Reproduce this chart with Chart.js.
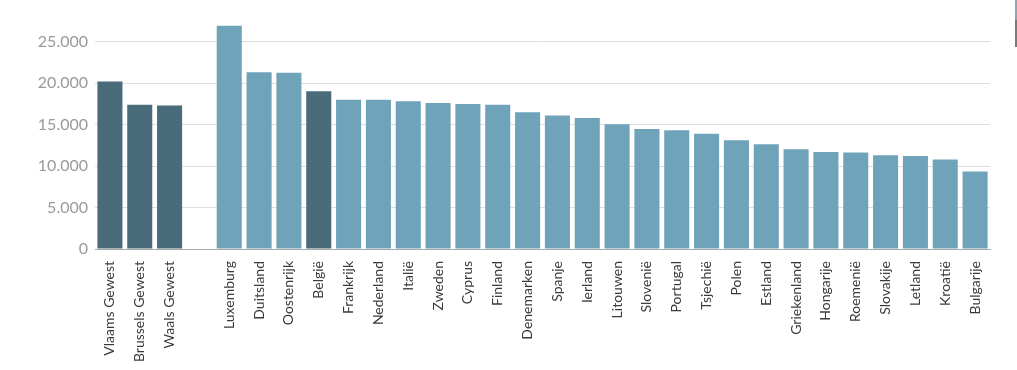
<!DOCTYPE html>
<html>
<head>
<meta charset="utf-8">
<script src="https://cdn.jsdelivr.net/npm/chart.js@4/dist/chart.umd.min.js"></script>
<style>
  html, body { margin: 0; padding: 0; background: #fff; overflow: hidden; }
  #wrap { position: relative; width: 1017px; height: 370px; }
  #edge1 { position: absolute; left: 1015px; top: 0; width: 2px; height: 20px; background: #8fa4ad; }
  #edge2 { position: absolute; left: 1015px; top: 20px; width: 2px; height: 27px; background: #7a7a7a; }
</style>
</head>
<body>
<div id="wrap">
  <canvas id="chart" width="1017" height="370"></canvas>
  <div id="edge1"></div>
  <div id="edge2"></div>
</div>
<script>
const categories = [
  "Vlaams Gewest", "Brussels Gewest", "Waals Gewest", "",
  "Luxemburg", "Duitsland", "Oostenrijk", "België", "Frankrijk", "Nederland",
  "Italië", "Zweden", "Cyprus", "Finland", "Denemarken", "Spanje", "Ierland",
  "Litouwen", "Slovenië", "Portugal", "Tsjechië", "Polen", "Estland",
  "Griekenland", "Hongarije", "Roemenië", "Slovakije", "Letland", "Kroatië",
  "Bulgarije"
];
const values = [
  20200, 17400, 17300, null,
  26900, 21300, 21250, 19000, 18000, 17990,
  17800, 17600, 17480, 17400, 16480, 16100, 15800,
  15050, 14450, 14300, 13900, 13100, 12620,
  12020, 11700, 11620, 11300, 11220, 10780,
  9340
];
const highlighted = ["Vlaams Gewest", "Brussels Gewest", "Waals Gewest", "België"];
const yTicks = [0, 5000, 10000, 15000, 20000, 25000];

const darkColor = "#4a6b7a";
const lightColor = "#6fa3b9";

function formatNumber(v) {
  return v.toString().replace(/\B(?=(\d{3})+(?!\d))/g, ".");
}

const ctx = document.getElementById("chart").getContext("2d");
new Chart(ctx, {
  type: "bar",
  data: {
    labels: categories,
    datasets: [{
      data: values,
      backgroundColor: categories.map(c => highlighted.includes(c) ? darkColor : lightColor),
      borderWidth: 0,
      categoryPercentage: 1,
      barPercentage: 0.84
    }]
  },
  options: {
    responsive: false,
    animation: false,
    layout: { padding: { top: 25, right: 27, left: 0, bottom: 0 } },
    plugins: { legend: { display: false }, tooltip: { enabled: false } },
    scales: {
      x: {
        grid: { display: false, drawTicks: false },
        border: { display: true, color: "#a9a9a9", width: 1 },
        ticks: {
          autoSkip: false,
          minRotation: 90,
          maxRotation: 90,
          padding: 12,
          color: "#3a3a3a",
          font: { family: "Lato", size: 14 }
        },
        afterFit: s => { s.height = 121; }
      },
      y: {
        min: 0,
        max: 27000,
        afterBuildTicks: s => { s.ticks = yTicks.map(v => ({ value: v })); },
        grid: { color: "#dedede", drawTicks: false },
        border: { display: false },
        ticks: {
          includeBounds: false,
          padding: 7,
          color: "#9a9a9a",
          font: { family: "Lato", size: 16 },
          callback: v => formatNumber(v)
        },
        afterFit: s => { s.width = 95; }
      }
    }
  }
});
</script>
</body>
</html>
